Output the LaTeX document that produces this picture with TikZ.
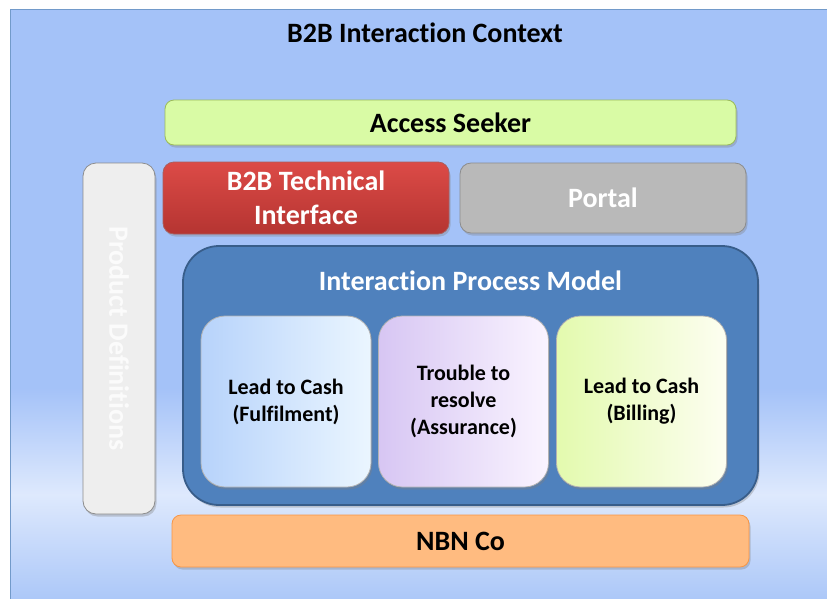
\documentclass[tikz,border=0pt]{standalone}
\usepackage{fontspec}
\setmainfont{Carlito}[Ligatures={NoCommon,NoContextual}]
\usetikzlibrary{positioning,shadows}

\definecolor{bgtop}{HTML}{A4C2F8}
\definecolor{bglight}{HTML}{DEE9FD}
\definecolor{bgbot}{HTML}{ABC7F8}
\definecolor{seekfill}{HTML}{D9FBA5}
\definecolor{seekline}{HTML}{9BBB59}
\definecolor{redtop}{HTML}{DC4B47}
\definecolor{redbot}{HTML}{B53431}
\definecolor{redline}{HTML}{943634}
\definecolor{portfill}{HTML}{B9B9B9}
\definecolor{prodfill}{HTML}{EEEEEE}
\definecolor{ipmfill}{HTML}{4F81BD}
\definecolor{ipmline}{HTML}{385D8A}
\definecolor{nbnfill}{HTML}{FFBB80}
\definecolor{nbnline}{HTML}{F79646}
\definecolor{fulleft}{HTML}{B7D3FB}
\definecolor{fulright}{HTML}{EBF6FF}
\definecolor{assleft}{HTML}{D7C6F3}
\definecolor{assright}{HTML}{FAF4FF}
\definecolor{billleft}{HTML}{E3FAAE}
\definecolor{billright}{HTML}{FDFEF1}

\pgfdeclareverticalshading{bgshade}{100bp}{color(0bp)=(bgbot); color(25bp)=(bgbot);
  color(34bp)=(bglight); color(43bp)=(bgtop); color(75bp)=(bgtop); color(100bp)=(bgtop)}

\tikzstyle{box} = [draw, rounded corners=9pt, line width=0.8pt, align=center,
  font=\fontsize{28}{34}\selectfont\bfseries,
  drop shadow={opacity=0.35, shadow xshift=1.5pt, shadow yshift=-2.5pt}]
\tikzstyle{proc} = [box, rounded corners=24pt, draw=gray!60, minimum width=170,
  minimum height=171, font=\fontsize{22}{27}\selectfont\bfseries]

\begin{document}
\begin{tikzpicture}[x=1pt, y=-1pt]
                \useasboundingbox (0,0) rectangle (827,598);
                % background
                \shade[shading=bgshade, draw=ipmfill!80, line width=0.8pt] (10,9) rectangle (830,601);
                \node[font=\fontsize{28}{34}\selectfont\bfseries] (title) at (425,33) {B2B Interaction Context};
                % top row
                \node[box, fill=seekfill, draw=seekline,
                    minimum width=571,
                    minimum height=45] (seeker) at (450.5,122.5) {Access Seeker};
                \node[box, top color=redtop, bottom color=redbot, draw=redline!80,
                    text=white, rounded corners=11pt,
                    minimum width=286,
                    minimum height=72] (b2b) at (306,198) {B2B Technical\\Interface};
                \node[box, fill=portfill, draw=gray!90, text=white, rounded corners=11pt,
                    minimum width=286,
                    minimum height=70] (portal) at (603,198) {Portal};
                % side bar
                \node[box, fill=prodfill, draw=gray!90, text=white!97!gray, rotate=-90,
                    rounded corners=13pt,
                    minimum width=351,
                    minimum height=72] (prod) at (119,338.5) {Product  Definitions};
                % process model
                \node[box, fill=ipmfill, draw=ipmline, line width=1.8pt, rounded corners=36pt,
                    minimum width=575,
                    minimum height=259] (ipm) at (470.5,375.5) {};
                \node[text=white, font=\fontsize{28}{34}\selectfont\bfseries,
                    below=36pt of ipm.north, anchor=center] (ipmtitle) {Interaction Process Model};
                \node[proc, left color=fulleft, right color=fulright] (fulfil) at (286,401.5)
                    {Lead to Cash\\(Fulfilment)};
                \node[proc, left color=assleft, right color=assright] (assure) at (463.5,401.5)
                    {Trouble to\\resolve\\(Assurance)};
                \node[proc, left color=billleft, right color=billright] (billing) at (641.5,401.5)
                    {Lead to Cash\\(Billing)};
                % bottom
                \node[box, fill=nbnfill, draw=nbnline,
                    minimum width=577,
                    minimum height=52] (nbn) at (460.5,541) {NBN Co};
        \end{tikzpicture}
\end{document}
